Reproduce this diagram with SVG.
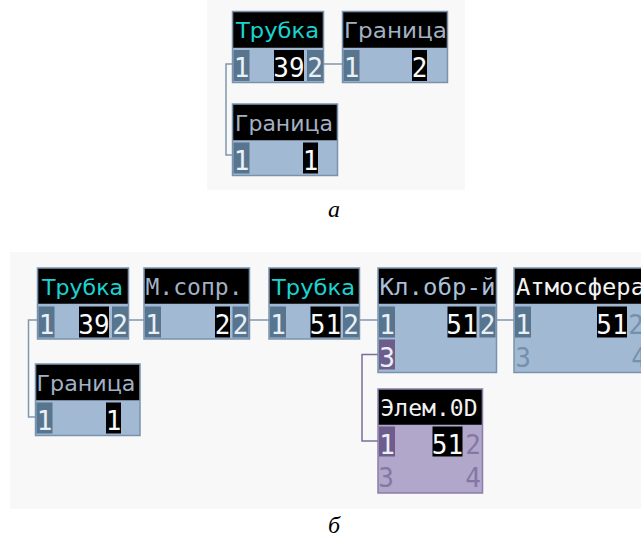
<svg xmlns="http://www.w3.org/2000/svg" width="641" height="537" viewBox="0 0 641 537">
<style>
.panel{fill:#f8f8f8}
.nb{fill:#a1b9d2;stroke:#7892ad;stroke-width:1.5}
.np{fill:#b1a7cb;stroke:#8a7da8;stroke-width:1.5}
.hd{fill:#000}
.pb{fill:#58758f}
.pp{fill:#6e5d8c}
.bk{fill:#000}
.ht{font-family:"DejaVu Sans",sans-serif;font-size:22px}
.hm{font-family:"DejaVu Sans Mono",monospace;font-size:23px}
.cy{fill:#1ad3d0}
.gr{fill:#a3b1c2}
.lb{fill:#aabfd8}
.wh{fill:#f2f2f2}
.dg{font-family:"DejaVu Sans Mono",monospace;font-size:26px;text-anchor:middle}
.dw{fill:#eaf0f5}
.dk{fill:#fafafa}
.di{fill:#7390ad}
.dpi{fill:#8577a3}
.cb{fill:none;stroke:#7f97ae;stroke-width:1.5}
.cp{fill:none;stroke:#7d6d98;stroke-width:1.5}
.cap{font-family:"Liberation Serif",serif;font-style:italic;font-size:24px;text-anchor:middle;fill:#000}
</style>
<rect class="panel" x="207" y="0" width="258" height="190"/>
<rect class="panel" x="10" y="252" width="631" height="257"/>

<g id="connectors">
<polyline class="cb" points="232.5,64 226,64 226,155 232.5,155"/>
<polyline class="cb" points="323.5,64 342.5,64"/>
<polyline class="cb" points="37.5,320 28.5,320 28.5,417 35.5,417"/>
<polyline class="cb" points="128.5,320 144,320"/>
<polyline class="cb" points="249.5,320 269,320"/>
<polyline class="cb" points="359.5,320 378,320"/>
<polyline class="cb" points="496.5,320 514,320"/>
<polyline class="cp" points="378,354.5 362,354.5 362,441 378,441"/>
</g>

<g id="a-trubka">
<rect class="nb" x="232.5" y="11.5" width="91" height="71"/>
<rect class="hd" x="233.25" y="12.25" width="89.5" height="35.5"/>
<text class="ht cy" x="236" y="38" textLength="83" lengthAdjust="spacingAndGlyphs">Трубка</text>
<rect class="pb" x="233.5" y="50" width="16" height="31"/>
<text class="dg dw" x="241.5" y="77">1</text>
<rect class="bk" x="274" y="50" width="30" height="31"/>
<text class="dg dk" x="289" y="77">39</text>
<rect class="pb" x="307" y="50" width="16" height="31"/>
<text class="dg dw" x="315" y="77">2</text>
</g>

<g id="a-granica-2">
<rect class="nb" x="342.5" y="11.5" width="105" height="71"/>
<rect class="hd" x="343.25" y="12.25" width="103.5" height="35.5"/>
<text class="ht gr" x="344" y="38" textLength="103" lengthAdjust="spacingAndGlyphs">Граница</text>
<rect class="pb" x="343.5" y="50" width="16" height="31"/>
<text class="dg dw" x="351.5" y="77">1</text>
<rect class="bk" x="412" y="50" width="15" height="31"/>
<text class="dg dk" x="419.5" y="77">2</text>
</g>

<g id="a-granica-1">
<rect class="nb" x="232.5" y="104" width="105" height="71.5"/>
<rect class="hd" x="233.25" y="104.75" width="103.5" height="35.5"/>
<text class="ht gr" x="235" y="130.5" textLength="98" lengthAdjust="spacingAndGlyphs">Граница</text>
<rect class="pb" x="233.5" y="142.5" width="16" height="31"/>
<text class="dg dw" x="241.5" y="169.5">1</text>
<rect class="bk" x="303" y="142.5" width="15" height="31"/>
<text class="dg dk" x="310.5" y="169.5">1</text>
</g>

<g id="b-trubka-1">
<rect class="nb" x="37.5" y="268" width="91" height="71"/>
<rect class="hd" x="38.25" y="268.75" width="89.5" height="35"/>
<text class="ht cy" x="42" y="294.5" textLength="81" lengthAdjust="spacingAndGlyphs">Трубка</text>
<rect class="pb" x="38.5" y="306.5" width="16" height="31"/>
<text class="dg dw" x="46.5" y="333.5">1</text>
<rect class="bk" x="79" y="306.5" width="30" height="31"/>
<text class="dg dk" x="94" y="333.5">39</text>
<rect class="pb" x="112" y="306.5" width="16" height="31"/>
<text class="dg dw" x="120" y="333.5">2</text>
</g>

<g id="b-msopr">
<rect class="nb" x="144" y="268" width="105.5" height="71"/>
<rect class="hd" x="144.75" y="268.75" width="104" height="35"/>
<text class="hm gr" x="145.5" y="294.5" textLength="97" lengthAdjust="spacingAndGlyphs">М.сопр.</text>
<rect class="pb" x="145" y="306.5" width="16" height="31"/>
<text class="dg dw" x="153" y="333.5">1</text>
<rect class="bk" x="215" y="306.5" width="15" height="31"/>
<text class="dg dk" x="222.5" y="333.5">2</text>
<rect class="pb" x="232.5" y="306.5" width="16" height="31"/>
<text class="dg dw" x="240.5" y="333.5">2</text>
</g>

<g id="b-trubka-2">
<rect class="nb" x="269" y="268" width="90.5" height="71"/>
<rect class="hd" x="269.75" y="268.75" width="89" height="35"/>
<text class="ht cy" x="272" y="294.5" textLength="83" lengthAdjust="spacingAndGlyphs">Трубка</text>
<rect class="pb" x="270" y="306.5" width="16" height="31"/>
<text class="dg dw" x="278" y="333.5">1</text>
<rect class="bk" x="310.5" y="306.5" width="30" height="31"/>
<text class="dg dk" x="325.5" y="333.5">51</text>
<rect class="pb" x="343" y="306.5" width="16" height="31"/>
<text class="dg dw" x="351" y="333.5">2</text>
</g>

<g id="b-klapan">
<rect class="nb" x="378" y="268" width="118.5" height="104.5"/>
<rect class="hd" x="378.75" y="268.75" width="117" height="35"/>
<text class="hm lb" x="379.5" y="294.5" textLength="116" lengthAdjust="spacingAndGlyphs">Кл.обр-й</text>
<rect class="pb" x="379" y="306.5" width="16" height="31"/>
<text class="dg dw" x="387" y="333.5">1</text>
<rect class="bk" x="447.5" y="306.5" width="29" height="31"/>
<text class="dg dk" x="462" y="333.5">51</text>
<rect class="pb" x="479.5" y="306.5" width="16" height="31"/>
<text class="dg dw" x="487.5" y="333.5">2</text>
<rect class="pp" x="379" y="339.5" width="16" height="30"/>
<text class="dg dw" x="387" y="366.5">3</text>
</g>

<g id="b-atmosfera">
<rect class="nb" x="514" y="268" width="140" height="104.5"/>
<rect class="hd" x="514.75" y="268.75" width="138.5" height="35"/>
<text class="hm wh" x="516" y="294.5" textLength="129" lengthAdjust="spacingAndGlyphs">Атмосфера</text>
<rect class="pb" x="515" y="306.5" width="16" height="31"/>
<text class="dg dw" x="523" y="333.5">1</text>
<rect class="bk" x="597" y="306.5" width="30" height="31"/>
<text class="dg dk" x="612" y="333.5">51</text>
<text class="dg di" x="636" y="333.5">2</text>
<text class="dg di" x="523" y="366.5">3</text>
<text class="dg di" x="639" y="366.5">4</text>
</g>

<g id="b-granica">
<rect class="nb" x="35.5" y="364" width="104.5" height="71.5"/>
<rect class="hd" x="36.25" y="364.75" width="103" height="35.5"/>
<text class="ht gr" x="36.5" y="390.5" textLength="99" lengthAdjust="spacingAndGlyphs">Граница</text>
<rect class="pb" x="36.5" y="402.5" width="16" height="31"/>
<text class="dg dw" x="44.5" y="429.5">1</text>
<rect class="bk" x="106" y="402.5" width="15" height="31"/>
<text class="dg dk" x="113.5" y="429.5">1</text>
</g>

<g id="b-elem0d">
<rect class="np" x="378" y="389" width="104.5" height="104"/>
<rect class="hd" x="378.75" y="389.75" width="103" height="35"/>
<text class="hm wh" x="380.5" y="415.5" textLength="97" lengthAdjust="spacingAndGlyphs">Элем.0D</text>
<rect class="pp" x="379" y="426.5" width="16" height="30"/>
<text class="dg dw" x="387" y="453.5">1</text>
<rect class="bk" x="432.5" y="426.5" width="30" height="30"/>
<text class="dg dk" x="447.5" y="453.5">51</text>
<text class="dg dpi" x="473" y="453.5">2</text>
<text class="dg dpi" x="386" y="486.5">3</text>
<text class="dg dpi" x="473" y="486.5">4</text>
</g>

<text class="cap" x="334" y="216.5">а</text>
<text class="cap" x="334" y="532.5">б</text>
</svg>
